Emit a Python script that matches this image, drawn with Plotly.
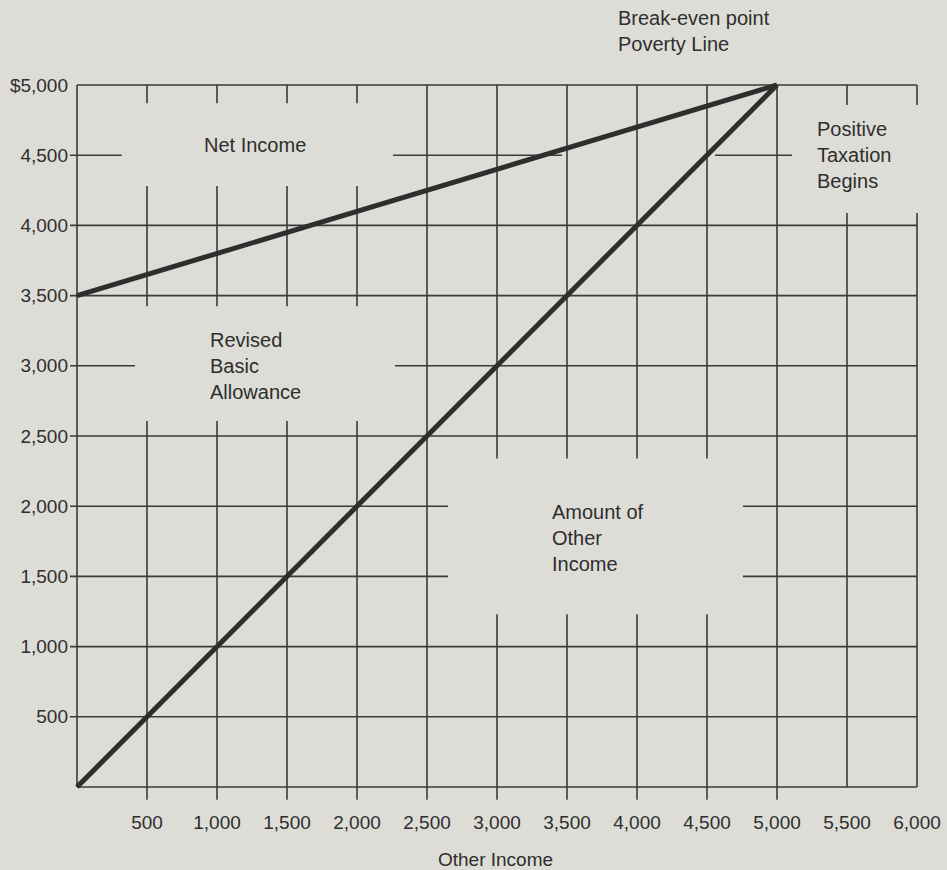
import plotly.graph_objects as go

# ---- data ----
other_income = [0, 5000]
amount_of_other_income = [0, 5000]
net_income_x = [0, 5000]
net_income = [3500, 5000]

x_tick_vals = [500, 1000, 1500, 2000, 2500, 3000, 3500, 4000, 4500, 5000, 5500, 6000]
x_tick_text = ["500", "1,000", "1,500", "2,000", "2,500", "3,000", "3,500",
               "4,000", "4,500", "5,000", "5,500", "6,000"]
y_tick_vals = [500, 1000, 1500, 2000, 2500, 3000, 3500, 4000, 4500, 5000]
y_tick_text = ["500", "1,000", "1,500", "2,000", "2,500", "3,000", "3,500",
               "4,000", "4,500", "$5,000"]

# hand-drawn grid (broken around the labels), in data units
h_segments = [
    (5000, 0, 6000),
    (4500, -50, 320), (4500, 2257, 3464), (4500, 4557, 5107),
    (4000, -50, 6000),
    (3500, -50, 6000),
    (3000, -50, 414), (3000, 2271, 6000),
    (2500, -50, 6000),
    (2000, -50, 2650), (2000, 4757, 6000),
    (1500, -50, 2650), (1500, 4757, 6000),
    (1000, -50, 6000),
    (500, -50, 6000),
    (0, 0, 6000),
]
v_segments = [(0, 0, 5000), (2500, -90, 5000), (5000, -90, 5000)]
for xv in [500, 1000, 1500, 2000]:
    v_segments += [(xv, 4870, 5000), (xv, 3425, 4280), (xv, -90, 2607)]
for xv in [3000, 3500, 4000, 4500]:
    v_segments += [(xv, 2340, 5000), (xv, -90, 1230)]
for xv in [5500, 6000]:
    v_segments += [(xv, 4858, 5000), (xv, 0, 4088)]

BG = "#dddcd6"
INK = "#2e2e2e"
FONT = "Liberation Sans, Arial, sans-serif"

fig = go.Figure()
fig.add_trace(go.Scatter(x=net_income_x, y=net_income, mode="lines",
                         line=dict(color=INK, width=5), hoverinfo="skip"))
fig.add_trace(go.Scatter(x=other_income, y=amount_of_other_income, mode="lines",
                         line=dict(color=INK, width=5), hoverinfo="skip"))

shapes = []
for (yv, x0, x1) in h_segments:
    shapes.append(dict(type="line", xref="x", yref="y", x0=x0, x1=x1, y0=yv, y1=yv,
                       line=dict(color="#3a3a3a", width=1.6), layer="below"))
for (xv, y0, y1) in v_segments:
    shapes.append(dict(type="line", xref="x", yref="y", x0=xv, x1=xv, y0=y0, y1=y1,
                       line=dict(color="#3a3a3a", width=1.6), layer="below"))

tf = dict(family=FONT, size=20, color=INK)
annotations = [
    dict(text="Break-even point<br>Poverty Line", x=3850, y=1.069, yref="paper",
         xanchor="left", yanchor="middle", align="left", font=tf),
    dict(text="Net Income", x=1271, y=4573, xanchor="center", yanchor="middle", font=tf),
    dict(text="Revised<br>Basic<br>Allowance", x=936, y=3000, xanchor="left",
         yanchor="middle", align="left", font=tf),
    dict(text="Amount of<br>Other<br>Income", x=3379, y=1775, xanchor="left",
         yanchor="middle", align="left", font=tf),
    dict(text="Positive<br>Taxation<br>Begins", x=5271, y=4500, xanchor="left",
         yanchor="middle", align="left", font=tf),
]
for a in annotations:
    a.setdefault("yref", "y")
    a.update(xref="x", showarrow=False)

fig.update_layout(
    width=947, height=870,
    margin=dict(l=69, r=25, t=81, b=69),
    paper_bgcolor=BG, plot_bgcolor=BG,
    showlegend=False,
    shapes=shapes, annotations=annotations,
    font=dict(family=FONT, color=INK),
    xaxis=dict(range=[-57.14, 6035.7], showgrid=False, zeroline=False, showline=False,
               automargin=False,
               tickvals=x_tick_vals, ticktext=x_tick_text, ticks="",
               tickfont=dict(family=FONT, size=19, color=INK), ticklabelstandoff=8,
               title=dict(text="Other Income", font=dict(family=FONT, size=19, color=INK),
                          standoff=21),
               fixedrange=True),
    yaxis=dict(range=[-99.7, 5028.5], showgrid=False, zeroline=False, showline=False,
               automargin=False,
               tickvals=y_tick_vals, ticktext=y_tick_text, ticks="",
               tickfont=dict(family=FONT, size=19, color=INK), ticklabelstandoff=0,
               fixedrange=True),
)

fig.write_html(
    "out.html",
    config={"displayModeBar": False},
    post_script="document.body.style.margin='0';document.body.style.background='%s';" % BG,
)
